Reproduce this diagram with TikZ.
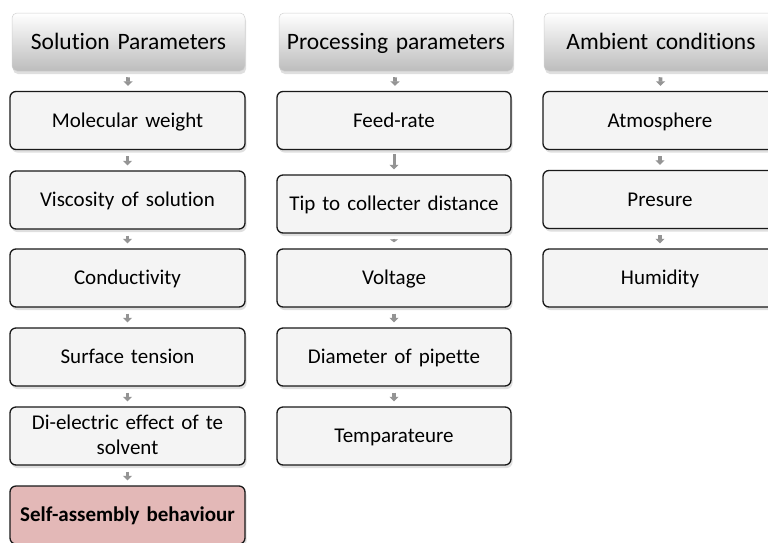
\documentclass[tikz,border=0pt]{standalone}
\usepackage{fontspec}
\setmainfont{Carlito}[Ligatures=NoCommon]
\usetikzlibrary{shadows,arrows.meta}
\definecolor{boxfill}{HTML}{F4F4F4}
\definecolor{selffill}{HTML}{E3B8B7}
\begin{document}
\begin{tikzpicture}[x=1pt,y=-1pt,
  hdr/.style={rounded corners=5pt, top color=white, bottom color=black!26, draw=black!18, line width=0.5pt,
    minimum height=58pt, inner sep=0pt, text width=#1-4pt, minimum width=#1, align=center,
    text height=20pt, text depth=5pt,
    font=\fontsize{23.5}{28}\selectfont,
    drop shadow={opacity=0.25, shadow xshift=1pt, shadow yshift=-3pt}},
  box/.style={rounded corners=6pt, fill=boxfill, draw=black!90, line width=1.3pt,
    minimum height=58pt, inner sep=0pt, text width=#1-8pt, minimum width=#1, align=center,
    text height=17.5pt, text depth=4pt,
    font=\fontsize{21}{25}\selectfont,
    drop shadow={opacity=0.25, shadow xshift=1.5pt, shadow yshift=-3pt}},
  blk/.style={draw=black!42, line width=3.8pt, -{Triangle[width=9pt,length=4.5pt]},
    shorten <=6pt, shorten >=5pt},
]
\useasboundingbox (0,0) rectangle (768,542);
\clip (0,0) rectangle (768,542);
\fill[white] (0,0) rectangle (768,542);
% column 1
\node[hdr=233pt] (h1) at (128.5,42) {Solution Parameters};
\node[box=235pt] (a1) at (127.5,120.5) {Molecular weight};
\node[box=235pt] (a2) at (127.5,200) {Viscosity of solution};
\node[box=235pt] (a3) at (127.5,278) {Conductivity};
\node[box=235pt] (a4) at (127.5,357) {Surface tension};
\node[box=235pt, text height=17.5pt, text depth=30pt] (a5) at (127.5,436) {Di-electric effect of te\\solvent};
\node[box=235pt, fill=selffill, font=\fontsize{21}{25}\selectfont\bfseries] (a6) at (127.5,515) {Self-assembly behaviour};
% column 2
\node[hdr=234pt] (h2) at (396,42) {Processing parameters};
\node[box=234pt] (b1) at (394,120.5) {Feed-rate};
\node[box=234pt] (b2) at (394,204) {Tip to collecter distance};
\node[box=234pt] (b3) at (394,278) {Voltage};
\node[box=234pt] (b4) at (394,357) {Diameter of pipette};
\node[box=234pt] (b5) at (394,436) {Temparateure};
% column 3
\node[hdr=234pt] (h3) at (661,42) {Ambient conditions};
\node[box=234pt] (c1) at (660,120.5) {Atmosphere};
\node[box=234pt] (c2) at (660,199.5) {Presure};
\node[box=234pt] (c3) at (660,278) {Humidity};
% connectors
\draw[blk] (h1) -- (a1);
\draw[blk] (a1) -- (a2);
\draw[blk] (a2) -- (a3);
\draw[blk] (a3) -- (a4);
\draw[blk] (a4) -- (a5);
\draw[blk] (a5) -- (a6);
\draw[blk] (h2) -- (b1);
\draw[blk, line width=3pt, shorten <=4pt, shorten >=5pt] (b1) -- (b2);
\draw[blk, line width=2pt, -{Triangle[width=8pt,length=3pt]}, shorten <=5pt, shorten >=6pt] (b2) -- (b3);
\draw[blk] (b3) -- (b4);
\draw[blk] (b4) -- (b5);
\draw[blk] (h3) -- (c1);
\draw[blk] (c1) -- (c2);
\draw[blk] (c2) -- (c3);
\end{tikzpicture}
\end{document}
